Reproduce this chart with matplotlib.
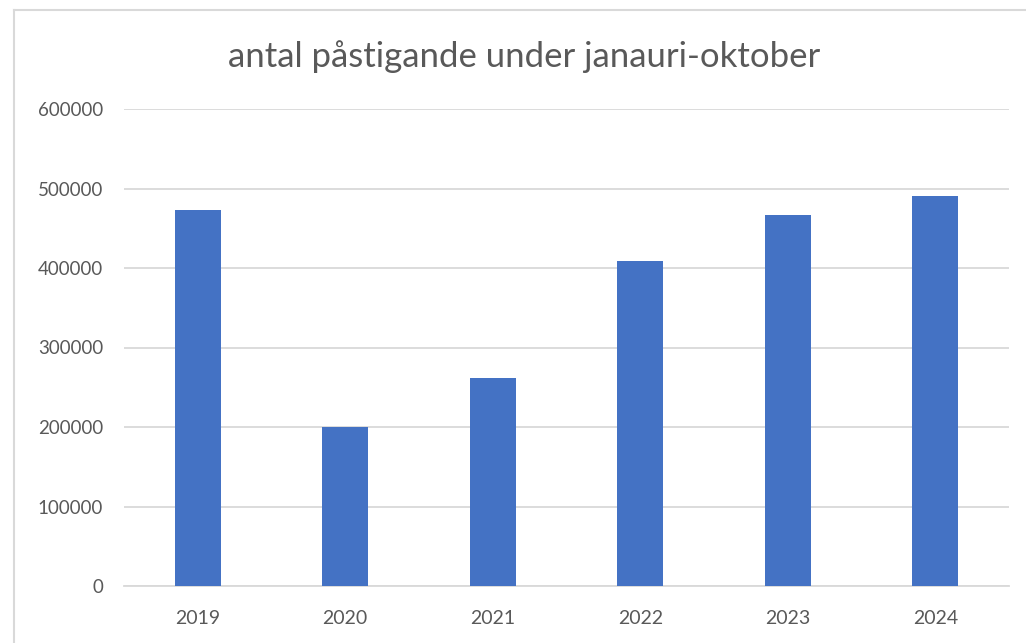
import matplotlib
matplotlib.use("Agg")
import matplotlib.pyplot as plt
from matplotlib.lines import Line2D

# values
years = ["2019", "2020", "2021", "2022", "2023", "2024"]
passengers = [473000, 200000, 262000, 409000, 467000, 490000]
y_ticks = [0, 100000, 200000, 300000, 400000, 500000, 600000]

plt.rcParams['font.family'] = ['Lato', 'DejaVu Sans']

text_color = "#595959"
bar_color = "#4472C4"
grid_color = "#D9D9D9"

fig = plt.figure(figsize=(10.26, 6.43), dpi=100)
ax = fig.add_axes([124 / 1026, 1 - 586 / 643, 885 / 1026, 477 / 643])

x = list(range(len(years)))
ax.bar(x, passengers, width=0.313, color=bar_color, zorder=3)

ax.set_xlim(-0.5, len(years) - 0.5)
ax.set_ylim(0, 600000)
ax.set_yticks(y_ticks)
ax.set_yticklabels([str(v) for v in y_ticks])
ax.set_xticks(x)
ax.set_xticklabels(years)

ax.grid(axis="y", color=grid_color, linewidth=1.3, zorder=0)
for side in ["top", "right", "left"]:
    ax.spines[side].set_visible(False)
ax.spines["bottom"].set_color(grid_color)
ax.spines["bottom"].set_linewidth(1.3)
ax.tick_params(axis="both", length=0, colors=text_color)
ax.tick_params(axis="y", pad=15, labelsize=13.5)
ax.tick_params(axis="x", pad=17, labelsize=14)

fig.text(524 / 1026, 1 - 57 / 643, "antal påstigande under janauri-oktober",
         ha="center", va="center", fontsize=25, color=text_color)

# chart frame (only the left and top edges are visible in the crop)
frame_color = "#D9D9D9"
fig.add_artist(Line2D([14 / 1026, 14 / 1026], [0, 1 - 10 / 643], color=frame_color, linewidth=1.5))
fig.add_artist(Line2D([14 / 1026, 1], [1 - 10 / 643, 1 - 10 / 643], color=frame_color, linewidth=1.5))

fig.savefig("out.png", dpi=100)
plt.close(fig)
